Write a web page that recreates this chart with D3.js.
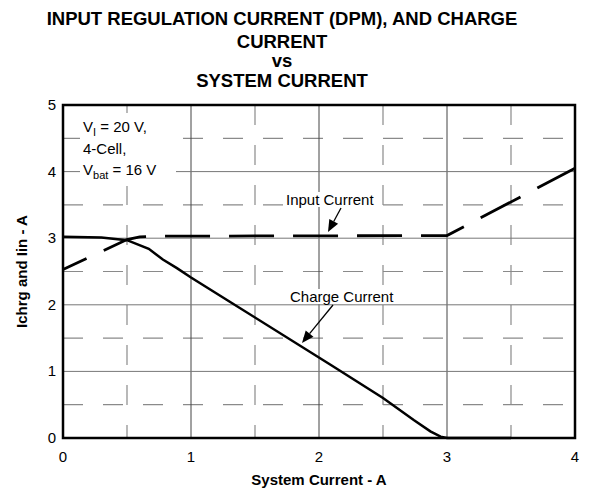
<!DOCTYPE html>
<html>
<head>
<meta charset="utf-8">
<script src="https://cdn.jsdelivr.net/npm/d3@7"></script>
<style>
  body { margin: 0; background: #fff; }
  text { font-family: "Liberation Sans", Arial, sans-serif; }
</style>
</head>
<body>
<div id="wrapper"></div>
<script>
// values
const titleLines = ["INPUT REGULATION CURRENT (DPM), AND CHARGE", "CURRENT", "vs", "SYSTEM CURRENT"]
const xTicks = [0, 1, 2, 3, 4]
const yTicks = [0, 1, 2, 3, 4, 5]
const xMinor = [0.5, 1.5, 2.5, 3.5]
const yMinor = [0.5, 1.5, 2.5, 3.5, 4.5]

const inputCurrent = [
    { x: 0, y: 2.53 }, { x: 0.5, y: 2.98 }, { x: 0.6, y: 3.02 }, { x: 0.7, y: 3.03 },
    { x: 3.0, y: 3.04 }, { x: 4.0, y: 4.05 }
]
const chargeCurrent = [
    { x: 0, y: 3.02 }, { x: 0.3, y: 3.01 }, { x: 0.5, y: 2.97 }, { x: 0.67, y: 2.84 },
    { x: 0.78, y: 2.68 }, { x: 0.89, y: 2.55 }, { x: 1.0, y: 2.41 }, { x: 1.3, y: 2.05 },
    { x: 2.09, y: 1.10 }, { x: 2.5, y: 0.60 }, { x: 2.74, y: 0.27 }, { x: 2.87, y: 0.10 },
    { x: 2.95, y: 0.02 }, { x: 3.0, y: 0 }, { x: 3.5, y: 0 }
]

const dimensions = {
    width: 601,
    height: 491,
    margin: { top: 105, bottom: 53, left: 63, right: 26 }
}
dimensions.boundedWidth = dimensions.width - dimensions.margin.left - dimensions.margin.right
dimensions.boundedHeight = dimensions.height - dimensions.margin.top - dimensions.margin.bottom

const svg = d3.select("#wrapper").append("svg")
    .attr("width", dimensions.width)
    .attr("height", dimensions.height)

// title
svg.append("g").selectAll("text").data(titleLines).enter()
    .append("text")
    .attr("x", 282)
    .attr("y", (d, i) => [25, 48, 67, 87][i])
    .attr("text-anchor", "middle")
    .style("font-size", "18.5px")
    .style("font-weight", "bold")
    .text(d => d)

const bounded = svg.append("g")
    .attr("transform", `translate(${dimensions.margin.left},${dimensions.margin.top})`)

const xScale = d3.scaleLinear().domain([0, 4]).range([0, dimensions.boundedWidth])
const yScale = d3.scaleLinear().domain([0, 5]).range([dimensions.boundedHeight, 0])

// minor dashed grid
bounded.append("g").selectAll("line").data(xMinor).enter().append("line")
    .attr("x1", d => xScale(d)).attr("x2", d => xScale(d))
    .attr("y1", 0).attr("y2", dimensions.boundedHeight)
    .attr("stroke", "#8a8a8a").attr("stroke-width", 1.2)
    .attr("stroke-dasharray", "20,20")
bounded.append("g").selectAll("line").data(yMinor).enter().append("line")
    .attr("y1", d => yScale(d)).attr("y2", d => yScale(d))
    .attr("x1", 0).attr("x2", dimensions.boundedWidth)
    .attr("stroke", "#8a8a8a").attr("stroke-width", 1.2)
    .attr("stroke-dasharray", "20,20")

// major grid
bounded.append("g").selectAll("line").data(xTicks.slice(1, -1)).enter().append("line")
    .attr("x1", d => xScale(d)).attr("x2", d => xScale(d))
    .attr("y1", 0).attr("y2", dimensions.boundedHeight)
    .attr("stroke", "#444").attr("stroke-width", 1)
bounded.append("g").selectAll("line").data(yTicks.slice(1, -1)).enter().append("line")
    .attr("y1", d => yScale(d)).attr("y2", d => yScale(d))
    .attr("x1", 0).attr("x2", dimensions.boundedWidth)
    .attr("stroke", "#777").attr("stroke-width", 1)

// note box
const note = bounded.append("g")
note.append("rect")
    .attr("x", 17).attr("y", 8).attr("width", 96).attr("height", 73)
    .attr("fill", "#fff")
const noteText = note.append("text").style("font-size", "15px").attr("fill", "#000")
const l1 = noteText.append("tspan").attr("x", 20).attr("y", 27)
l1.append("tspan").text("V")
l1.append("tspan").attr("dy", 4).style("font-size", "11px").text("I")
l1.append("tspan").attr("dy", -4).text(" = 20 V,")
noteText.append("tspan").attr("x", 20).attr("y", 49).text("4-Cell,")
const l3 = noteText.append("tspan").attr("x", 20).attr("y", 70)
l3.append("tspan").text("V")
l3.append("tspan").attr("dy", 4).style("font-size", "11px").text("bat")
l3.append("tspan").attr("dy", -4).text(" = 16 V")

// curves
const line = d3.line().x(d => xScale(d.x)).y(d => yScale(d.y))

bounded.append("path")
    .datum(chargeCurrent)
    .attr("d", line)
    .attr("fill", "none")
    .attr("stroke", "#000")
    .attr("stroke-width", 2.5)

bounded.append("path")
    .datum(inputCurrent)
    .attr("d", line)
    .attr("fill", "none")
    .attr("stroke", "#000")
    .attr("stroke-width", 2.8)
    .attr("stroke-dasharray", "45,19")
    .attr("stroke-dashoffset", 19)

// labels with arrows
function label(txt, tx, ty, from, to) {
    const g = bounded.append("g")
    const bg = g.append("rect").attr("fill", "#fff")
    const t = g.append("text")
        .attr("x", tx).attr("y", ty)
        .style("font-size", "15px")
        .text(txt)
    const box = t.node().getBBox()
    bg.attr("x", box.x - 2).attr("y", box.y + 1)
        .attr("width", box.width + 4).attr("height", box.height - 2)
    const dx = to[0] - from[0], dy = to[1] - from[1]
    const len = Math.sqrt(dx * dx + dy * dy)
    const ux = dx / len, uy = dy / len
    const hl = 12, hw = 5
    const bx = to[0] - ux * hl, by = to[1] - uy * hl
    g.append("line")
        .attr("x1", from[0]).attr("y1", from[1])
        .attr("x2", bx).attr("y2", by)
        .attr("stroke", "#000").attr("stroke-width", 1.3)
    g.append("path")
        .attr("d", `M${to[0]},${to[1]}L${bx - uy * hw},${by + ux * hw}L${bx + uy * hw},${by - ux * hw}Z`)
        .attr("fill", "#000")
}
label("Input Current", 223, 100, [278, 103], [265, 127])
label("Charge Current", 227, 197, [270, 200], [239, 238])

// frame
bounded.append("rect")
    .attr("width", dimensions.boundedWidth).attr("height", dimensions.boundedHeight)
    .attr("fill", "none").attr("stroke", "#000").attr("stroke-width", 2.5)

// tick labels
bounded.append("g").selectAll("text").data(xTicks).enter().append("text")
    .attr("x", d => xScale(d))
    .attr("y", dimensions.boundedHeight + 24)
    .attr("text-anchor", "middle")
    .style("font-size", "15px")
    .text(d => d)
bounded.append("g").selectAll("text").data(yTicks).enter().append("text")
    .attr("x", -7)
    .attr("y", d => yScale(d) + 5)
    .attr("text-anchor", "end")
    .style("font-size", "15px")
    .text(d => d)

// axis titles
svg.append("text")
    .attr("x", dimensions.margin.left + dimensions.boundedWidth / 2)
    .attr("y", 485)
    .attr("text-anchor", "middle")
    .style("font-size", "15px").style("font-weight", "bold")
    .text("System Current - A")
svg.append("text")
    .attr("transform", `translate(27,${dimensions.margin.top + dimensions.boundedHeight / 2}) rotate(-90)`)
    .attr("text-anchor", "middle")
    .style("font-size", "15px").style("font-weight", "bold")
    .text("Ichrg and Iin - A")
</script>
</body>
</html>
